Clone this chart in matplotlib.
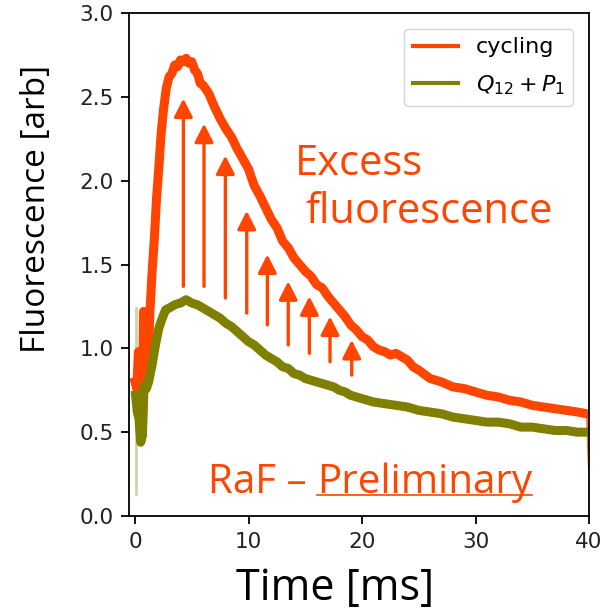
import matplotlib
matplotlib.use('Agg')
import matplotlib.pyplot as plt

# cycling trace (time in ms, fluorescence in arb)
t_cyc = [0.0, 0.15, 0.3, 0.45, 0.55, 0.65, 0.75, 0.85, 1.0, 1.15, 1.3, 1.5, 1.7, 1.9,
         2.1, 2.3, 2.5, 2.75, 3.0, 3.25, 3.5, 3.75, 4.0, 4.25, 4.5, 4.75, 5.0, 5.25,
         5.5, 5.75, 6.0, 6.5, 7.0, 7.5, 8.0, 8.5, 9.0, 9.5, 10.0, 10.5, 11.0, 11.5,
         12.0, 12.5, 13.0, 13.5, 14.0, 14.5, 15.0, 15.5, 16.0, 16.5, 17.0, 17.5, 18.0,
         18.5, 19.0, 19.5, 20.0, 20.5, 21.0, 21.5, 22.0, 22.5, 23.0, 23.5, 24.0, 24.5,
         25.0, 26.0, 27.0, 28.0, 29.0, 30.0, 31.0, 32.0, 33.0, 34.0, 35.0, 36.0, 37.0,
         38.0, 39.0, 39.8]
v_cyc = [0.80, 0.76, 0.98, 0.85, 0.50, 0.48, 1.22, 1.10, 0.90, 0.88, 1.20, 1.45, 1.65, 1.90,
         2.08, 2.28, 2.42, 2.55, 2.62, 2.64, 2.69, 2.68, 2.72, 2.71, 2.73, 2.70, 2.71, 2.66,
         2.64, 2.58, 2.57, 2.52, 2.44, 2.37, 2.31, 2.26, 2.19, 2.13, 2.07, 1.97, 1.91, 1.84,
         1.77, 1.72, 1.64, 1.60, 1.54, 1.50, 1.46, 1.43, 1.38, 1.36, 1.31, 1.27, 1.23,
         1.19, 1.14, 1.11, 1.07, 1.05, 1.01, 0.99, 0.98, 0.96, 0.97, 0.95, 0.93, 0.89,
         0.87, 0.82, 0.80, 0.77, 0.76, 0.74, 0.72, 0.71, 0.69, 0.68, 0.66, 0.65, 0.64,
         0.63, 0.62, 0.61]

# last samples of cycling (thin drop at the end)
t_cyc_end = [39.8, 40.0]
v_cyc_end = [0.61, 0.24]

# Q12 + P1 trace
t_qp = [0.05, 0.2, 0.35, 0.5, 0.65, 0.8, 1.0, 1.2, 1.5, 1.8, 2.1, 2.4, 2.7, 3.0, 3.5,
        4.0, 4.5, 5.0, 5.5, 6.0, 6.5, 7.0, 7.5, 8.0, 8.5, 9.0, 9.5, 10.0, 10.5, 11.0,
        11.5, 12.0, 12.5, 13.0, 13.5, 14.0, 14.5, 15.0, 15.5, 16.0, 16.5, 17.0, 17.5,
        18.0, 18.5, 19.0, 19.5, 20.0, 21.0, 22.0, 23.0, 24.0, 25.0, 26.0, 27.0, 28.0,
        29.0, 30.0, 31.0, 32.0, 33.0, 34.0, 35.0, 36.0, 37.0, 38.0, 39.0, 40.0]
v_qp = [0.72, 0.62, 0.58, 0.44, 0.48, 0.78, 0.76, 0.80, 0.90, 1.02, 1.12, 1.18, 1.23, 1.24, 1.26,
        1.27, 1.29, 1.27, 1.26, 1.24, 1.22, 1.20, 1.18, 1.15, 1.13, 1.10, 1.07, 1.04, 1.02, 0.99,
        0.96, 0.94, 0.92, 0.89, 0.88, 0.85, 0.84, 0.82, 0.81, 0.80, 0.79, 0.78, 0.77,
        0.75, 0.74, 0.72, 0.71, 0.70, 0.68, 0.67, 0.66, 0.65, 0.63, 0.62, 0.61, 0.59,
        0.58, 0.57, 0.56, 0.56, 0.55, 0.53, 0.53, 0.52, 0.51, 0.51, 0.50, 0.50]

# faint first samples of Q12 + P1
t_qp_pre = [0.05, 0.05]
v_qp_pre = [1.24, 0.13]

# excess arrows: time, start (bottom), end (top)
arrow_t = [4.26, 6.08, 7.96, 9.84, 11.66, 13.5, 15.36, 17.18, 19.09]
arrow_lo = [1.37, 1.37, 1.30, 1.21, 1.14, 1.02, 0.97, 0.92, 0.84]
arrow_hi = [2.49, 2.34, 2.15, 1.82, 1.56, 1.40, 1.31, 1.19, 1.05]

orange = '#ff4500'
olive = '#808000'
label_font = ['Open Sans', 'DejaVu Sans']

fig = plt.figure(figsize=(6.0, 6.14), dpi=100)
ax = fig.add_axes([0.215, 0.1596, 0.7667, 0.8192])

ax.plot(t_qp_pre, v_qp_pre, color=olive, lw=2, alpha=0.35)
ax.plot(t_cyc_end, v_cyc_end, color=orange, lw=1.2, alpha=0.8)
ax.plot(t_cyc, v_cyc, color=orange, lw=6.5, label='cycling')
ax.plot(t_qp, v_qp, color=olive, lw=6.5, label='$Q_{12}+P_1$')

for t, lo, hi in zip(arrow_t, arrow_lo, arrow_hi):
    ax.annotate('', xy=(t, hi), xytext=(t, lo),
                arrowprops=dict(arrowstyle='-|>,head_length=0.55,head_width=0.28',
                                mutation_scale=20, color=orange, lw=2.4,
                                shrinkA=0, shrinkB=0))

ax.set_xlim(-0.53, 40)
ax.set_ylim(0, 3.0)
ax.set_xticks([0, 10, 20, 30, 40])
ax.set_yticks([0.0, 0.5, 1.0, 1.5, 2.0, 2.5, 3.0])
ax.tick_params(labelsize=15.5, length=5.6, width=1.3, pad=5.6, labelcolor='#222222')
for s in ax.spines.values():
    s.set_linewidth(1.3)

ax.set_xlabel('Time [ms]', fontsize=31, family=label_font, va='baseline')
ax.xaxis.set_label_coords(0.448, -0.167)
ax.set_ylabel('Fluorescence [arb]', fontsize=24, family=label_font, va='baseline')
ax.yaxis.set_label_coords(-0.183, 0.610)

leg = ax.legend(loc='upper right', fontsize=16, labelspacing=0.7, borderaxespad=0.7)
for ln in leg.get_lines():
    ln.set_linewidth(3)

ax.text(0.361, 0.678, 'Excess', transform=ax.transAxes, ha='left', va='baseline',
        fontsize=30, color=orange, family=label_font)
ax.text(0.383, 0.583, 'fluorescence', transform=ax.transAxes, ha='left', va='baseline',
        fontsize=30, color=orange, family=label_font)

base_y = 0.0457
t1 = ax.text(0.172, base_y, 'RaF \u2013 ', transform=ax.transAxes, ha='left', va='baseline',
             fontsize=29, color=orange, family=label_font)
fig.canvas.draw()
bb = t1.get_window_extent()
x1 = ax.transAxes.inverted().transform((bb.x1, bb.y0))[0]
t2 = ax.text(x1, base_y, 'Preliminary', transform=ax.transAxes, ha='left', va='baseline',
             fontsize=29, color=orange, family=label_font)
fig.canvas.draw()
bb2 = t2.get_window_extent()
base_px = ax.transAxes.transform((0, base_y))[1]
p0 = ax.transAxes.inverted().transform((bb2.x0, base_px - 2))
p1 = ax.transAxes.inverted().transform((bb2.x1, base_px - 2))
ax.plot([p0[0], p1[0]], [p0[1], p1[1]], transform=ax.transAxes, color=orange, lw=1.2,
        clip_on=False)

fig.savefig('out.png', dpi=100)
